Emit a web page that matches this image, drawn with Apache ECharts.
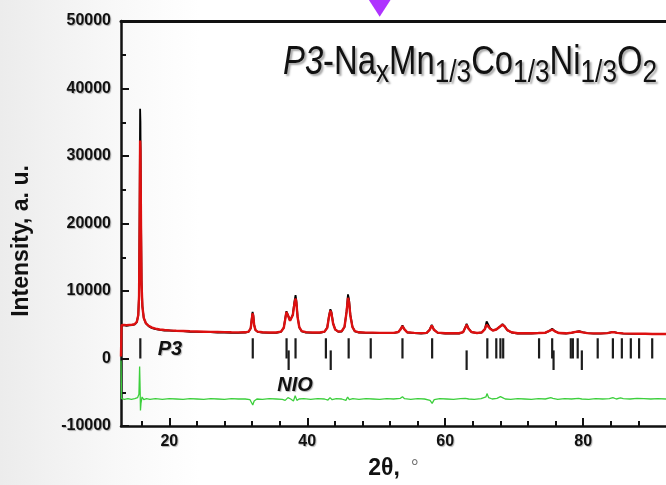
<!DOCTYPE html>
<html>
<head>
<meta charset="utf-8">
<script src="https://cdn.jsdelivr.net/npm/echarts@6.0.0/dist/echarts.min.js"></script>
<style>
html,body{margin:0;padding:0;background:#fff;}
#chart{width:666px;height:485px;}
</style>
</head>
<body>
<div id="chart"></div>
<script>
// ---- data ----
const xMajorTicks = [20, 40, 60, 80];
const xMinorTicks = [16, 24, 28, 32, 36, 44, 48, 52, 56, 64, 68, 72, 76, 84, 88];

const observed = [
[13.00,4850],[13.08,4900],[13.4,4950],[13.8,4850],[14.2,4900],[14.6,4950],[15.0,5050],[15.3,5400],[15.5,6400],[15.62,9500],[15.7,22000],[15.77,37000],[15.82,35000],[15.9,21000],[15.98,11500],[16.1,7800],[16.3,6000],[16.6,5200],[17.0,4800],[17.5,4500],[18.0,4350],[18.6,4250],[19.3,4150],[20.0,4150],[21.0,4050],[22.0,4050],[23.0,3950],[24.0,3950],[25.0,3900],[26.0,3900],[27.0,3850],[28.0,3850],[29.0,3800],[30.0,3800],[31.0,3850],[31.5,3950],[31.8,4500],[31.95,5900],[32.07,6900],[32.17,6500],[32.3,5000],[32.5,4200],[32.8,3950],[33.5,3850],[34.5,3800],[35.5,3800],[36.2,3950],[36.6,4600],[36.85,6200],[36.98,7000],[37.1,6900],[37.3,6200],[37.5,5600],[37.7,5500],[37.9,6500],[38.15,8500],[38.3,9400],[38.42,8600],[38.6,6200],[38.85,4600],[39.2,4000],[39.8,3850],[40.8,3800],[41.8,3800],[42.5,3950],[42.9,4600],[43.15,6300],[43.35,7300],[43.5,6900],[43.75,5200],[44.05,4300],[44.5,3950],[45.0,4000],[45.4,4700],[45.7,7000],[45.9,9500],[46.05,8800],[46.25,6500],[46.55,4700],[46.9,4000],[47.5,3850],[48.5,3800],[49.5,3800],[50.5,3750],[51.5,3750],[52.5,3750],[53.2,3900],[53.55,4400],[53.8,4900],[54.05,4400],[54.5,3850],[55.5,3750],[56.5,3700],[57.3,3750],[57.75,4300],[58.05,5000],[58.35,4300],[58.9,3800],[60.0,3700],[61.0,3700],[62.0,3700],[62.6,3900],[62.9,4600],[63.1,5150],[63.35,4500],[63.8,3900],[64.6,3750],[65.3,3850],[65.75,4400],[66.0,5500],[66.2,5300],[66.5,4500],[66.9,4150],[67.4,4300],[67.9,4700],[68.3,5100],[68.6,4800],[69.0,4200],[69.6,3850],[70.5,3700],[71.5,3700],[72.5,3700],[73.5,3750],[74.5,3800],[75.1,4100],[75.5,4400],[75.9,4050],[76.5,3750],[77.5,3700],[78.3,3800],[78.9,3950],[79.4,4050],[79.9,3900],[80.6,3750],[81.5,3700],[82.5,3700],[83.5,3750],[84.1,3900],[84.4,3950],[84.9,3800],[85.8,3700],[87.0,3650],[88.0,3650],[89.0,3650],[90.0,3600],[91.0,3600],[92.0,3600]
];

const calculated = [
[13.00,300],[13.08,4950],[13.4,4980],[13.8,4950],[14.2,4980],[14.6,5000],[15.0,5100],[15.3,5450],[15.5,6400],[15.62,9300],[15.7,20000],[15.77,32300],[15.82,31000],[15.9,19500],[15.98,11000],[16.1,7700],[16.3,6000],[16.6,5250],[17.0,4850],[17.5,4580],[18.0,4420],[18.6,4300],[19.3,4220],[20.0,4170],[21.0,4110],[22.0,4070],[23.0,4030],[24.0,4000],[25.0,3970],[26.0,3940],[27.0,3920],[28.0,3900],[29.0,3880],[30.0,3870],[31.0,3880],[31.5,3980],[31.8,4450],[31.95,5700],[32.07,6700],[32.17,6300],[32.3,4950],[32.5,4200],[32.8,3980],[33.5,3880],[34.5,3850],[35.5,3850],[36.2,3980],[36.6,4550],[36.85,6100],[36.98,6900],[37.1,6800],[37.3,6100],[37.5,5600],[37.7,5500],[37.9,6400],[38.15,8200],[38.3,8900],[38.42,8300],[38.6,6100],[38.85,4600],[39.2,4050],[39.8,3900],[40.8,3850],[41.8,3850],[42.5,3980],[42.9,4550],[43.15,6200],[43.35,7100],[43.5,6700],[43.75,5150],[44.05,4300],[44.5,3980],[45.0,4050],[45.4,4700],[45.7,6900],[45.9,9000],[46.05,8400],[46.25,6300],[46.55,4650],[46.9,4050],[47.5,3880],[48.5,3840],[49.5,3830],[50.5,3800],[51.5,3790],[52.5,3790],[53.2,3920],[53.55,4350],[53.8,4800],[54.05,4350],[54.5,3880],[55.5,3790],[56.5,3760],[57.3,3790],[57.75,4250],[58.05,4900],[58.35,4250],[58.9,3830],[60.0,3750],[61.0,3740],[62.0,3740],[62.6,3920],[62.9,4550],[63.1,5000],[63.35,4450],[63.8,3920],[64.6,3780],[65.3,3870],[65.75,4350],[66.0,5000],[66.2,4900],[66.5,4400],[66.9,4150],[67.4,4300],[67.9,4700],[68.3,5000],[68.6,4750],[69.0,4200],[69.6,3880],[70.5,3750],[71.5,3730],[72.5,3730],[73.5,3770],[74.5,3820],[75.1,4080],[75.5,4300],[75.9,4020],[76.5,3770],[77.5,3730],[78.3,3820],[78.9,3950],[79.4,4000],[79.9,3880],[80.6,3760],[81.5,3720],[82.5,3720],[83.5,3760],[84.1,3880],[84.4,3900],[84.9,3790],[85.8,3720],[87.0,3680],[88.0,3670],[89.0,3660],[90.0,3640],[91.0,3630],[92.0,3620]
];

const difference = [
[13.0,-300],[13.08,-5950],[13.5,-6050],[14.0,-5950],[14.5,-6050],[15.0,-5950],[15.4,-5800],[15.6,-5300],[15.7,-1200],[15.77,-4500],[15.82,-7700],[15.9,-6600],[16.05,-5700],[16.3,-6100],[16.7,-5950],[17.2,-6050],[18.0,-5950],[19.0,-6050],[20.0,-5950],[21.0,-6000],[22.0,-6050],[23.0,-5950],[24.0,-6000],[25.0,-6050],[26.0,-5950],[27.0,-6000],[28.0,-6050],[29.0,-5950],[30.0,-6000],[31.0,-6000],[31.7,-6100],[31.95,-6600],[32.1,-6900],[32.3,-6300],[32.7,-6000],[33.5,-6050],[34.5,-5950],[35.5,-6000],[36.4,-6050],[36.8,-6200],[37.0,-6350],[37.2,-5800],[37.6,-6000],[38.0,-6300],[38.25,-5500],[38.5,-6200],[38.8,-6000],[39.5,-5950],[40.5,-6050],[41.5,-5950],[42.5,-6000],[43.0,-6150],[43.3,-5800],[43.6,-6100],[44.2,-5950],[45.0,-6000],[45.6,-6200],[45.85,-5700],[46.1,-6100],[46.6,-5950],[47.5,-6050],[48.5,-5950],[49.5,-6000],[50.5,-6050],[51.5,-5950],[52.5,-6000],[53.5,-5900],[53.8,-5650],[54.1,-5950],[55.0,-6050],[56.0,-5950],[57.0,-6000],[57.8,-6200],[58.1,-6650],[58.4,-6100],[59.2,-5950],[60.2,-6000],[61.2,-6050],[62.2,-5950],[62.9,-5900],[63.15,-5700],[63.4,-6000],[64.2,-6050],[65.2,-5950],[65.9,-5700],[66.05,-5200],[66.3,-5800],[66.8,-6000],[67.5,-5900],[68.0,-5650],[68.3,-5800],[68.7,-6000],[69.5,-6050],[70.5,-5950],[71.5,-6000],[72.5,-6050],[73.5,-5950],[74.5,-6000],[75.3,-5800],[75.6,-5900],[76.3,-6050],[77.3,-5950],[78.3,-6000],[79.3,-5900],[79.8,-6000],[80.8,-6050],[81.8,-5950],[82.8,-6000],[83.8,-5950],[84.3,-5800],[84.8,-6000],[85.4,-5850],[85.8,-5950],[86.8,-6000],[87.8,-5900],[88.8,-5950],[89.8,-6000],[90.8,-5950],[92.0,-6000]
];

const p3Reflections = [15.8, 32.1, 37.0, 38.3, 42.7, 46.0, 49.2, 53.8, 58.1, 66.1, 67.4, 68.0, 68.4, 73.6, 75.5, 78.2, 78.5, 79.2, 82.1, 84.3, 85.6, 86.9, 88.1, 90.0];
const p3TickRange = [0, 3000];
const nioReflections = [37.3, 43.4, 63.1, 75.7, 79.8];
const nioTickRange = [-1700, 1200];
const arrowMark = [[50.5, 51900]];

// ---- chart ----
const chart = echarts.init(document.getElementById('chart'));
const sansFamily = '"Liberation Sans", Arial, sans-serif';
const labelFont = {fontFamily: sansFamily, fontWeight: 'bold', fontSize: 16, color: '#111',
  textShadowColor: 'rgba(0,0,0,0.3)', textShadowBlur: 1, textShadowOffsetX: 1, textShadowOffsetY: 1};
const titleBase = {fontFamily: sansFamily, fontWeight: 'normal', fill: '#111',
  textShadowColor: 'rgba(0,0,0,0.35)', textShadowBlur: 2, textShadowOffsetX: 2, textShadowOffsetY: 2};

function tickItem(color) {
  return function (params, api) {
    const x = api.value(0);
    const a = api.coord([x, api.value(1)]);
    const b = api.coord([x, api.value(2)]);
    return {type: 'line', shape: {x1: a[0], y1: a[1], x2: b[0], y2: b[1]}, style: {stroke: color, lineWidth: 2.2}};
  };
}

const option = {
  animation: false,
  backgroundColor: {type: 'linear', x: 0, y: 0, x2: 1, y2: 0,
    colorStops: [{offset: 0, color: '#ececec'}, {offset: 0.17, color: '#f8f8f8'}, {offset: 0.3, color: '#ffffff'}, {offset: 1, color: '#ffffff'}]},
  grid: {left: 121, top: 21, right: -13, bottom: 57, containLabel: false},
  xAxis: [
    {type: 'value', min: 13, max: 92, position: 'bottom',
     name: '{a|2θ,}{b|°}', nameLocation: 'middle', nameGap: 31,
     nameTextStyle: {rich: {
       a: {fontFamily: sansFamily, fontWeight: 'bold', fontSize: 23, color: '#111'},
       b: {fontFamily: sansFamily, fontWeight: 'normal', fontSize: 20, color: '#777', padding: [0, 0, 0, 11]}}},
     axisLine: {show: true, onZero: false, lineStyle: {color: '#111', width: 2.5}},
     axisTick: {show: true, inside: true, length: 8, lineStyle: {color: '#111', width: 2}, customValues: xMajorTicks},
     axisLabel: Object.assign({show: true, margin: 8, customValues: xMajorTicks}, labelFont),
     splitLine: {show: false}},
    {type: 'value', min: 13, max: 92, position: 'bottom',
     axisLine: {show: false, onZero: false},
     axisTick: {show: true, inside: true, length: 5, lineStyle: {color: '#111', width: 2}, customValues: xMinorTicks},
     axisLabel: {show: false}, splitLine: {show: false}},
    {type: 'value', min: 13, max: 92, position: 'top',
     axisLine: {show: true, onZero: false, lineStyle: {color: '#111', width: 3}},
     axisTick: {show: false}, axisLabel: {show: false}, splitLine: {show: false}}
  ],
  yAxis: {
    type: 'value', min: -10000, max: 50000, interval: 10000,
    axisLine: {show: true, onZero: false, lineStyle: {color: '#111', width: 2.5}},
    axisTick: {show: true, inside: true, length: 8, lineStyle: {color: '#111', width: 2}},
    minorTick: {show: true, splitNumber: 2, length: 5, lineStyle: {color: '#111', width: 2}},
    axisLabel: Object.assign({margin: 10, formatter: v => String(v)}, labelFont),
    splitLine: {show: false}, minorSplitLine: {show: false}
  },
  graphic: [
    {type: 'text', x: 283, y: 37, scaleX: 0.82, z: 10,
     style: {
       text: '{i|P3}{n|-Na}{s|x}{n|Mn}{s|1/3}{n|Co}{s|1/3}{n|Ni}{s|1/3}{n|O}{s|2}',
       align: 'left', verticalAlign: 'top',
       rich: {
         i: Object.assign({}, titleBase, {fontSize: 40, lineHeight: 52, fontStyle: 'italic'}),
         n: Object.assign({}, titleBase, {fontSize: 40, lineHeight: 52}),
         s: Object.assign({}, titleBase, {fontSize: 32, lineHeight: 16, verticalAlign: 'bottom'})
       }}},
    {type: 'text', x: 22, y: 241, rotation: Math.PI / 2,
     style: {text: 'Intensity, a. u.', fontFamily: sansFamily, fontWeight: 'bold', fontSize: 23,
       fill: '#111', align: 'center', verticalAlign: 'middle'}},
    {type: 'text', x: 170, y: 349,
     style: {text: 'P3', fontFamily: sansFamily, fontWeight: 'bold', fontStyle: 'italic', fontSize: 20,
       fill: '#111', align: 'center', verticalAlign: 'middle', textShadowColor: 'rgba(0,0,0,0.3)', textShadowBlur: 1, textShadowOffsetX: 1, textShadowOffsetY: 1}},
    {type: 'text', x: 295, y: 385.5,
     style: {text: 'NIO', fontFamily: sansFamily, fontWeight: 'bold', fontStyle: 'italic', fontSize: 20,
       fill: '#111', align: 'center', verticalAlign: 'middle', textShadowColor: 'rgba(0,0,0,0.3)', textShadowBlur: 1, textShadowOffsetX: 1, textShadowOffsetY: 1}}
  ],
  series: [
    {name: 'difference', type: 'line', data: difference, showSymbol: false, symbol: 'none',
     lineStyle: {color: '#3ccf3c', width: 1.3}, z: 2},
    {name: 'observed', type: 'line', data: observed, showSymbol: false, symbol: 'none',
     lineStyle: {color: '#000', width: 1.8}, z: 3},
    {name: 'calculated', type: 'line', data: calculated, showSymbol: false, symbol: 'none',
     lineStyle: {color: '#dd1010', width: 2.4}, z: 4},
    {name: 'P3 reflections', type: 'custom', renderItem: tickItem('#1c1c1c'),
     encode: {x: 0, y: [1, 2]},
     data: p3Reflections.map(v => [v, p3TickRange[0], p3TickRange[1]]), z: 5},
    {name: 'NiO reflections', type: 'custom', renderItem: tickItem('#1c1c1c'),
     encode: {x: 0, y: [1, 2]},
     data: nioReflections.map(v => [v, nioTickRange[0], nioTickRange[1]]), z: 5},
    {name: 'marker', type: 'scatter', data: arrowMark, symbol: 'triangle', symbolRotate: 180, symbolSize: [22, 17],
     clip: false, itemStyle: {color: '#9b00ff'}, z: 6}
  ]
};
chart.setOption(option);
</script>
</body>
</html>
